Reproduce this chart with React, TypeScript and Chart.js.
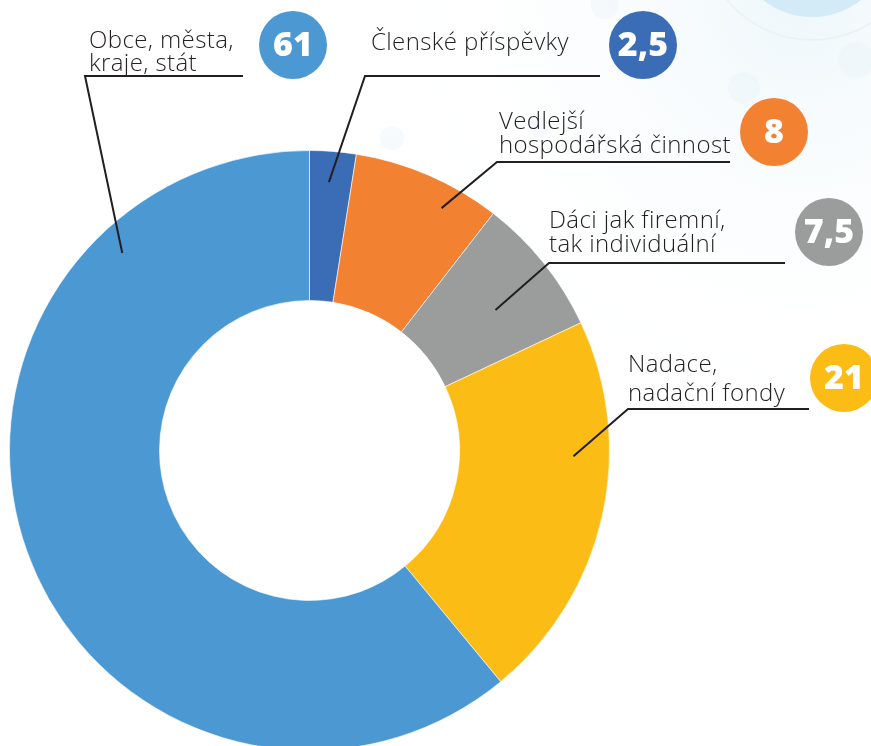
import React, { useEffect, useRef } from "react";
import { Chart, registerables } from "chart.js";

Chart.register(...registerables);

const categories = [
  "Členské příspěvky",
  "Vedlejší hospodářská činnost",
  "Dáci jak firemní, tak individuální",
  "Nadace, nadační fondy",
  "Obce, města, kraje, stát",
];
const values = [2.5, 8, 7.5, 21, 61];
const valueLabels = ["2,5", "8", "7,5", "21", "61"];
const labelLines = [
  ["Členské příspěvky"],
  ["Vedlejší", "hospodářská činnost"],
  ["Dáci jak firemní,", "tak individuální"],
  ["Nadace,", "nadační fondy"],
  ["Obce, města,", "kraje, stát"],
];
const colors = ["#3A6DB5", "#F28232", "#9B9D9D", "#FBBC16", "#4B98D3"];

// layout for the callouts (positions only)
const labelLayout = [
  { x: 371, y: 50, lh: 24, uy: 76, ux0: 365, ux1: 600, bx: 643, by: 45, af: 0.46, rf: 0.897 },
  { x: 499, y: 129, lh: 24, uy: 162, ux0: 497, ux1: 730, bx: 774, by: 132, af: 0.68, rf: 0.92 },
  { x: 549, y: 228, lh: 24, uy: 263, ux0: 549, ux1: 785, bx: 829, by: 232, af: 0.56, rf: 0.777 },
  { x: 628, y: 372, lh: 29, uy: 409, ux0: 628, ux1: 809, bx: 844, by: 378, af: 0.35, rf: 0.88 },
  { x: 89, y: 48, lh: 23, uy: 76, ux0: 85, ux1: 243, bx: 293, by: 45, af: 0.802, rf: 0.907 },
];

const backgroundPlugin = {
  id: "bgDeco",
  beforeDraw(chart: any) {
    const ctx = chart.ctx;
    ctx.save();
    ctx.fillStyle = "#ffffff";
    ctx.fillRect(0, 0, chart.width, chart.height);
    const g = ctx.createRadialGradient(800, 0, 10, 800, 0, 420);
    g.addColorStop(0, "rgba(220,238,246,0.45)");
    g.addColorStop(1, "rgba(255,255,255,0)");
    ctx.fillStyle = g;
    ctx.fillRect(0, 0, chart.width, chart.height);
    ctx.strokeStyle = "rgba(236,240,242,0.9)";
    ctx.lineWidth = 1.5;
    ctx.beginPath();
    ctx.arc(812, -70, 110, 0, Math.PI * 2);
    ctx.stroke();
    ctx.fillStyle = "#d3ebf6";
    ctx.beginPath();
    ctx.arc(812, -62, 79, 0, Math.PI * 2);
    ctx.fill();
    const bubbles = [
      [744, 88, 16],
      [856, 60, 18],
      [392, 138, 12],
      [605, 5, 14],
      [540, 128, 10],
    ];
    ctx.fillStyle = "rgba(232,241,247,0.35)";
    for (const [x, y, r] of bubbles) {
      ctx.beginPath();
      ctx.arc(x, y, r, 0, Math.PI * 2);
      ctx.fill();
    }
    ctx.restore();
  },
};

const calloutPlugin = {
  id: "callouts",
  afterDraw(chart: any) {
    const ctx = chart.ctx;
    const meta = chart.getDatasetMeta(0);
    ctx.save();
    meta.data.forEach((arc: any, i: number) => {
      const L = labelLayout[i];
      const p = arc.getProps(["x", "y", "startAngle", "endAngle", "outerRadius"], true);
      const a = p.startAngle + (p.endAngle - p.startAngle) * L.af;
      const r = p.outerRadius * L.rf;
      const ex = p.x + Math.cos(a) * r;
      const ey = p.y + Math.sin(a) * r;
      ctx.strokeStyle = "#231f20";
      ctx.lineWidth = 2;
      ctx.lineJoin = "miter";
      ctx.beginPath();
      ctx.moveTo(L.ux1, L.uy);
      ctx.lineTo(L.ux0, L.uy);
      ctx.lineTo(ex, ey);
      ctx.stroke();
      ctx.fillStyle = "#231f20";
      ctx.font = "300 24px 'Open Sans', sans-serif";
      (ctx as any).letterSpacing = "0.4px";
      ctx.textAlign = "left";
      ctx.textBaseline = "alphabetic";
      labelLines[i].forEach((t, k) => ctx.fillText(t, L.x, L.y + k * L.lh));
      (ctx as any).letterSpacing = "0px";
      ctx.fillStyle = colors[i];
      ctx.beginPath();
      ctx.arc(L.bx, L.by, 34, 0, Math.PI * 2);
      ctx.fill();
      ctx.fillStyle = "#ffffff";
      ctx.font = "800 34px 'Open Sans', sans-serif";
      ctx.textAlign = "center";
      ctx.textBaseline = "middle";
      ctx.fillText(valueLabels[i], L.bx, L.by + 1);
    });
    ctx.restore();
  },
};

export default function App() {
  const ref = useRef<HTMLCanvasElement | null>(null);
  useEffect(() => {
    if (!ref.current) return;
    const chart = new Chart(ref.current, {
      type: "doughnut",
      data: {
        labels: categories,
        datasets: [
          {
            data: values,
            backgroundColor: colors,
            borderColor: "rgba(255,255,255,0.6)",
            borderWidth: 1,
            hoverOffset: 0,
          },
        ],
      },
      options: {
        responsive: false,
        animation: false,
        cutout: "50%",
        layout: { padding: { left: 9, top: 150, right: 261, bottom: 9 } },
        plugins: { legend: { display: false }, tooltip: { enabled: false } },
        events: [],
      },
      plugins: [backgroundPlugin, calloutPlugin],
    });
    return () => chart.destroy();
  }, []);
  return (
    <div style={{ position: "absolute", left: 0, top: 0, width: 871, height: 746, overflow: "hidden" }}>
      <canvas ref={ref} width={871} height={760} style={{ display: "block", width: 871, height: 760 }} />
    </div>
  );
}
